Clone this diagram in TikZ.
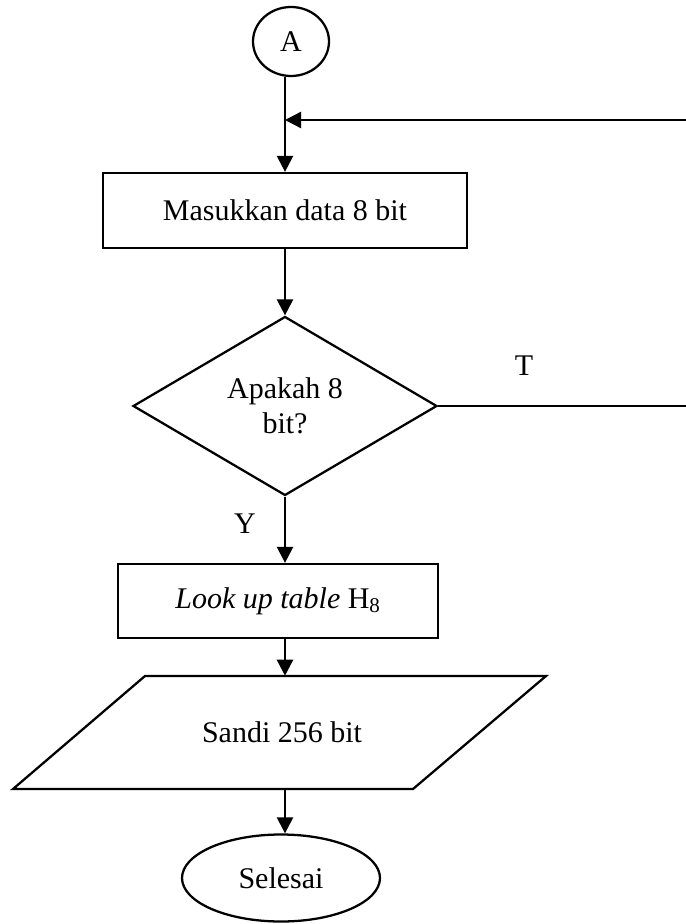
\documentclass[tikz,border=0pt]{standalone}
\usepackage{fontspec}
\setmainfont{Liberation Serif}
\usetikzlibrary{shapes.geometric,arrows.meta}

\tikzset{
  flowline/.style={line width=1.7pt},
  arr/.style={line width=1.8pt,-{Triangle[length=12pt,width=12pt]}},
  procbox/.style={draw,line width=1.7pt,rectangle,inner sep=0pt},
  decbox/.style={draw,line width=1.7pt,diamond,inner sep=0pt,align=center},
  termbox/.style={draw,line width=1.7pt,ellipse,inner sep=0pt},
  txt/.style={font=\fontsize{22.5}{26.25}\selectfont},
}

\begin{document}
\begin{tikzpicture}[x=0.75pt,y=-0.75pt,txt]
\useasboundingbox (0,0) rectangle (685,924);

% main spine of the flow
\coordinate (spine) at (285,0);

% connector A
\node[termbox,minimum width=57pt,minimum height=51.75pt] (conA) at (291,41.5) {A};

% input step
\node[procbox,minimum width=273pt,minimum height=56.25pt] (masuk) at (285,210.5) {Masukkan data 8 bit};

% decision
\node[decbox,minimum width=228pt,minimum height=134.25pt] (cek) at (285,406) {Apakah 8\\bit?};

% lookup step
\node[procbox,minimum width=240pt,minimum height=55.5pt] (lut) at (278,601) {\textit{Look up table} H\textsubscript{8}};

% output (parallelogram)
\coordinate (p1) at (13,789);
\coordinate (p2) at (413,789);
\coordinate (p3) at (546,676);
\coordinate (p4) at (145,676);
\draw[flowline,line join=miter] (p1) -- (p2) -- (p3) -- (p4) -- cycle;
\node[rectangle,inner sep=0pt,minimum width=200pt,minimum height=84.75pt] (sandi) at (282,732.5) {Sandi 256 bit};

% end
\node[termbox,minimum width=148.5pt,minimum height=65.25pt] (selesai) at (281,878) {Selesai};

% merge point of the loop back
\coordinate (merge) at (285,120);
\coordinate (loopR) at (690,120);
\coordinate (noR) at (690,406);

% connectors
\draw[flowline] (conA.south -| spine) -- (merge);
\draw[arr] (merge) -- (masuk.north -| spine);
\draw[arr] (loopR) -- (merge);
\draw[arr] (masuk.south -| spine) -- (cek.north);
\draw[flowline] (cek.east) -- (cek.east -| noR);
\draw[arr] (cek.south) -- (lut.north -| spine);
\draw[arr] (lut.south -| spine) -- (sandi.north -| spine);
\draw[arr] (sandi.south -| spine) -- (selesai.north -| spine);

% branch labels
\node (lblT) at (524,366) {T};
\node (lblY) at (245,524) {Y};
\end{tikzpicture}
\end{document}
